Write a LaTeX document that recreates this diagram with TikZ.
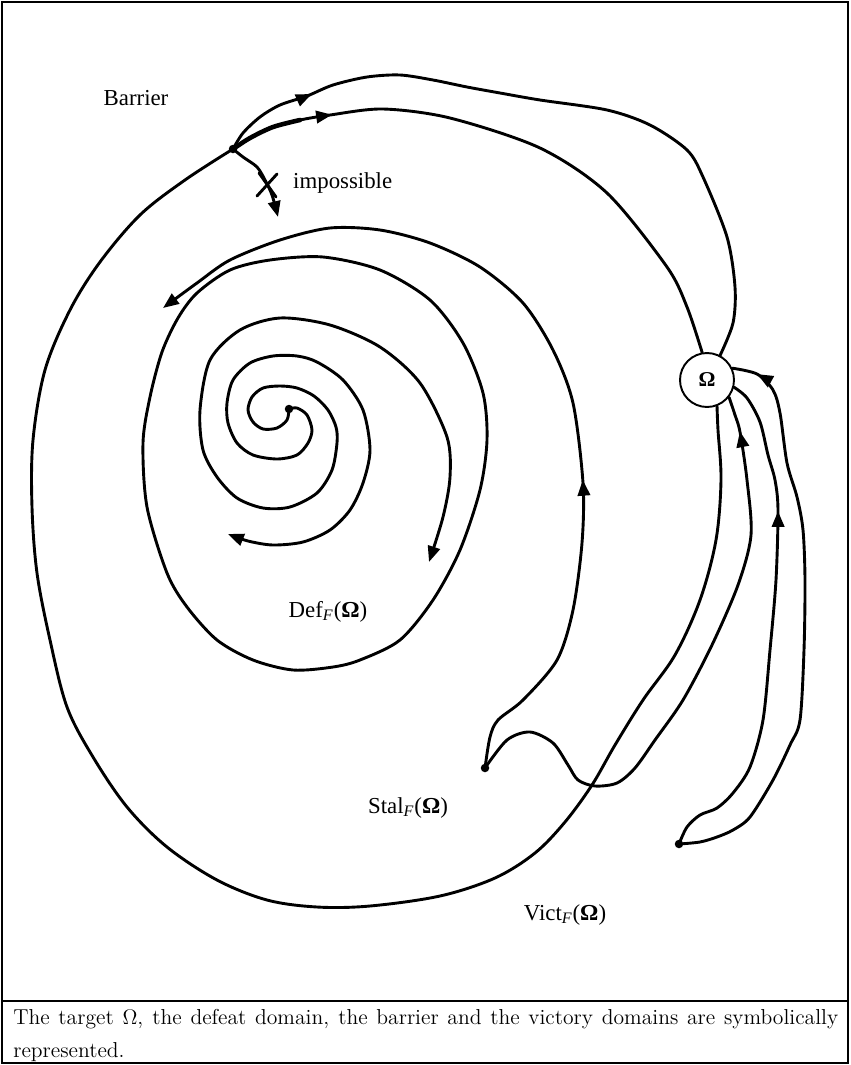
\documentclass[tikz,border=0pt]{standalone}
\usepackage{fontspec}
\newfontfamily\labelfont{Liberation Serif}
\usetikzlibrary{arrows.meta, decorations.markings}

\begin{document}
\begin{tikzpicture}[x=0.02cm, y=-0.02cm,
    curve/.style={line width=1.65pt, line cap=round, line join=round},
    midarrow/.style={postaction={decorate, decoration={markings,
        mark=at position #1 with {\arrow{Triangle[length=9pt, width=7pt]}}}}},
    dot/.style={circle, fill, inner sep=0pt, minimum size=0.17cm},
    lbl/.style={font=\labelfont\fontsize{13}{15}\selectfont},
    target/.style={circle, draw, line width=1.1pt, fill=white, inner sep=0pt,
                   minimum size=1.08cm, font=\labelfont\bfseries\fontsize{12}{14}\selectfont},
    >={Triangle[length=9pt, width=7pt]},
]
    \useasboundingbox (0,0) rectangle (850,1065);
    \draw[line width=0.8pt] (2,2) rectangle (848,1063);
    \draw[line width=0.8pt] (2,1001) -- (848,1001);

    % target and starting points
    \node[target] (omega) at (707,380) {Ω};
    \node[dot] (P) at (233,149) {};
    \node[dot] (core) at (289,409) {};
    \node[dot] (stal0) at (485,768) {};
    \node[dot] (vict0) at (679,844) {};
    \coordinate (cross) at (267,185);

    % barrier
    \draw[curve] plot[smooth, tension=0.55] coordinates {(omega.291) (718,430) (721,480) (716,540) (700,600) (675,655) (643,700) (615,745) (592,785) (565,822) (535,853) (495,878) (440,896) (370,906) (317,907) (267,900) (217,880) (167,847) (127,807) (93,757) (67,707) (50,640) (37,573) (32,507) (33,440) (45,370) (70,310) (100,262) (140,215) (185,180) (P.center)};
    \draw[curve, midarrow=0.18] plot[smooth] coordinates {(P.center) (250,138) (273,127) (300,120) (330,115) (383,109) (450,118) (540,148) (607,193) (667,267) (687,307) (omega.100)};
    \draw[line width=2.6pt, line cap=round] plot[smooth] coordinates {(P.center) (250,138) (273,127) (300,120)};
    \draw[curve, midarrow=0.14] plot[smooth] coordinates {(P.center) (243,133) (260,117) (280,105) (307,96) (333,85) (367,77) (400,75) (433,80) (467,87) (500,93) (540,100) (607,110) (650,125) (687,150) (703,177) (727,237) (735,287) (733,323) (omega.62)};

    % impossible direction
    \draw[curve, ->] plot[smooth] coordinates {(P.center) (243,157) (257,167) (265,180) (272,195) (278,217)};
    \draw[curve] (cross) ++(-10,11) -- ++(20,-22) (cross) ++(-8,-12) -- ++(17,24);

    % defeat domain
    \draw[curve] plot[smooth cycle] coordinates {(143,443) (147,507) (167,573) (187,607) (217,640) (253,660) (293,670) (333,667) (360,660) (400,640) (433,600) (460,550) (480,490) (487,440) (483,393) (463,343) (430,300) (380,270) (323,257) (270,260) (230,270) (197,293) (178,318) (162,352) (150,397)};
    \draw[curve, ->] plot[smooth] coordinates {(core.center) (287,420) (277,428) (263,429) (253,422) (248,410) (252,397) (263,388) (280,386) (297,388) (314,396) (328,410) (336,427) (337,443) (332,470) (317,493) (290,507) (263,508) (237,498) (217,477) (203,450) (200,410) (210,360) (240,330) (280,318) (330,325) (380,347) (420,383) (447,437) (450,477) (443,517) (429,562)};
    \draw[curve, ->] plot[smooth] coordinates {(core.center) (297,408) (307,415) (312,430) (308,443) (297,455) (277,459) (253,455) (237,443) (228,423) (227,403) (233,380) (250,363) (273,356) (297,356) (317,362) (343,380) (363,410) (370,450) (363,483) (350,510) (330,530) (303,542) (273,545) (248,541) (228,534)};

    % stalemate
    \draw[curve, ->, midarrow=0.35] plot[smooth] coordinates {(stal0.center) (490,737) (498,720) (523,700) (557,660) (573,610) (582,543) (583,483) (573,403) (553,350) (523,303) (480,267) (430,243) (380,230) (330,228) (280,240) (230,260) (197,283) (163,308)};
    \draw[curve, midarrow=0.94] plot[smooth] coordinates {(stal0.center) (507,740) (530,732) (553,743) (568,765) (578,780) (595,786) (617,783) (635,768) (655,740) (683,700) (712,645) (738,585) (751,535) (747,480) (740,432) (735,415) (omega.322)};

    % victory
    \draw[curve, midarrow=0.73] plot[smooth] coordinates {(vict0.center) (687,827) (700,815) (717,808) (733,793) (750,767) (763,720) (770,650) (776,580) (778,510) (775,480) (768,455) (760,422) (747,398) (omega.345)};
    \draw[curve, midarrow=0.955] plot[smooth] coordinates {(vict0.center) (700,842) (717,837) (733,830) (750,817) (773,780) (790,745) (800,720) (804,650) (805,580) (803,530) (797,497) (787,463) (780,413) (773,390) (757,374) (omega.25)};

    % labels
    \node[lbl] (barrier) at (136,98) {Barrier};
    \node[lbl, anchor=west] (imposs) at (287,183) {impossible};
    \node[lbl] (def) at (328,612) {Def\textsubscript{\textit{F}}(\textbf{Ω})};
    \node[lbl] (stal) at (408,808) {Stal\textsubscript{\textit{F}}(\textbf{Ω})};
    \node[lbl] (vict) at (565,915) {Vict\textsubscript{\textit{F}}(\textbf{Ω})};

    \node[anchor=north west, text width=16.5cm, align=justify, inner sep=0pt,
          font=\fontsize{12.3}{18.7}\selectfont] (caption) at (13,1009)
        {\hyphenpenalty=10000\relax The target $\Omega$, the defeat domain, the barrier and the victory domains are symbolically represented.};
\end{tikzpicture}
\end{document}
